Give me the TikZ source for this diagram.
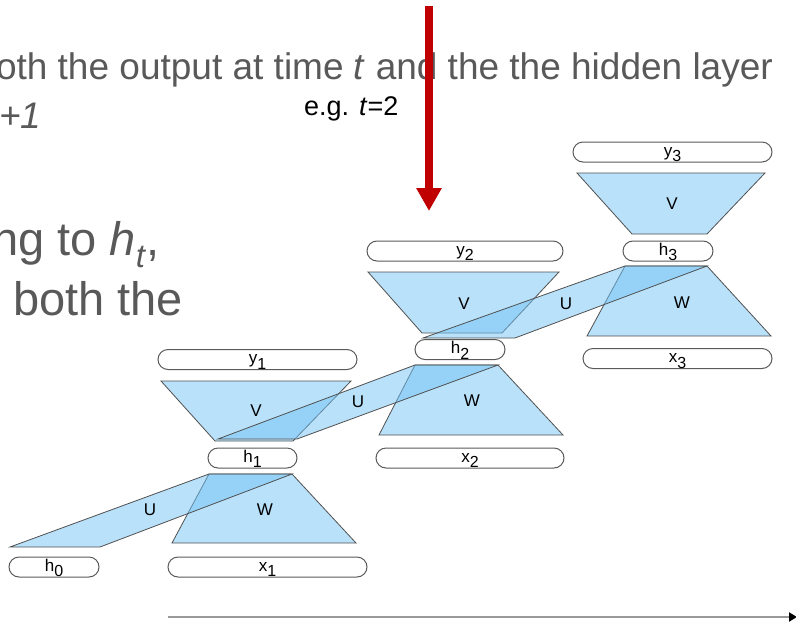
\documentclass[tikz,border=0pt]{standalone}
\usepackage{fontspec}
\setmainfont{Liberation Sans}
\usetikzlibrary{arrows.meta}
\definecolor{txtgray}{HTML}{595959}
\definecolor{trapblue}{RGB}{115,195,245}
\definecolor{edgegray}{HTML}{505050}
\definecolor{boxgray}{HTML}{5A5A5A}
\definecolor{arrowred}{HTML}{C00000}
\definecolor{axisgray}{HTML}{999999}
\newcommand\cellname[2]{#1\raisebox{-5.5pt}{\fontsize{16}{16}\selectfont #2}}
\begin{document}
\begin{tikzpicture}[x=1pt,y=-1pt,
  trap/.style={fill=trapblue, fill opacity=0.5, draw=edgegray, line width=0.8pt, line join=miter},
  cell/.style={draw=boxgray, fill=white, line width=1pt, rounded corners=10pt,
    inner sep=0pt, minimum height=20pt, text height=10pt, text depth=2pt,
    font=\fontsize{17}{17}\selectfont},
  wlabel/.style={font=\fontsize{17}{17}\selectfont, inner sep=0pt},
  slide/.style={text=txtgray, inner sep=0pt}
]
\useasboundingbox (0,0) rectangle (796,622);
\clip (0,0) rectangle (796,622);

% slide text
\node[slide, anchor=base east, font=\fontsize{37}{44}\selectfont] (l1) at (773,79)
  {oth the output at time \textit{t} and the the hidden layer};
\node[slide, anchor=base west, font=\fontsize{37}{44}\selectfont] (l2) at (-1,128) {\textit{+1}};
\node[slide, anchor=base east, font=\fontsize{47}{56}\selectfont] (l3) at (160,255)
  {ng to \textit{h}\textsubscript{\textit{t}},};
\node[slide, anchor=base west, font=\fontsize{47}{56}\selectfont] (l4) at (13,315) {both the};
\node[anchor=base west, inner sep=0pt, font=\fontsize{27}{30}\selectfont] (eg) at (304,115) {e.g. \textit{t}=2};

% red arrow
\coordinate (ra) at (429,6);
\coordinate (rb) at (429,211);
\draw[arrowred, line width=8pt, -{Triangle[length=23pt,width=24pt]}] (ra) -- (rb);

% V trapezoids
\draw[trap] (161,381) -- (351,381) -- (293,441) -- (215,441) -- cycle;
\draw[trap] (368,272) -- (559,272) -- (502,333) -- (422,333) -- cycle;
\draw[trap] (577,173) -- (765,173) -- (707,234) -- (632,234) -- cycle;
% W trapezoids
\draw[trap] (209,474) -- (292,474) -- (356,543) -- (172,543) -- cycle;
\draw[trap] (415,365) -- (498,365) -- (563,435) -- (379,435) -- cycle;
\draw[trap] (625,266) -- (707,266) -- (771,336) -- (587,336) -- cycle;
% U parallelograms
\draw[trap] (10,547) -- (100,547) -- (292,474) -- (209,474) -- cycle;
\draw[trap] (218,439) -- (297,439) -- (498,365) -- (415,365) -- cycle;
\draw[trap] (423,338) -- (515,338) -- (707,266) -- (625,266) -- cycle;

% weight labels
\node[wlabel] (V1) at (256,411) {V};
\node[wlabel] (V2) at (464,304) {V};
\node[wlabel] (V3) at (672,204) {V};
\node[wlabel] (W1) at (265,510) {W};
\node[wlabel] (W2) at (472,401) {W};
\node[wlabel] (W3) at (682,303) {W};
\node[wlabel] (U1) at (150,510) {U};
\node[wlabel] (U2) at (358,402) {U};
\node[wlabel] (U3) at (566,304) {U};

% cells
\node[cell, minimum width=199pt] (y1) at (257.5,359.5) {\cellname{y}{1}};
\node[cell, minimum width=89pt]  (h1) at (252.5,458) {\cellname{h}{1}};
\node[cell, minimum width=199pt] (x1) at (267.5,567) {\cellname{x}{1}};
\node[cell, minimum width=90pt]  (h0) at (54,567) {\cellname{h}{0}};
\node[cell, minimum width=196pt] (y2) at (465,251) {\cellname{y}{2}};
\node[cell, minimum width=90pt]  (h2) at (460,349.5) {\cellname{h}{2}};
\node[cell, minimum width=188pt] (x2) at (470,458) {\cellname{x}{2}};
\node[cell, minimum width=199pt] (y3) at (672.5,152) {\cellname{y}{3}};
\node[cell, minimum width=90pt]  (h3) at (668,251) {\cellname{h}{3}};
\node[cell, minimum width=189pt] (x3) at (677.5,358.5) {\cellname{x}{3}};

% time axis
\coordinate (ta) at (168,617);
\coordinate (tb) at (797,617);
\draw[axisgray, line width=2.5pt, -{Triangle[black,length=8pt,width=9pt]}] (ta) -- (tb);
\end{tikzpicture}
\end{document}
